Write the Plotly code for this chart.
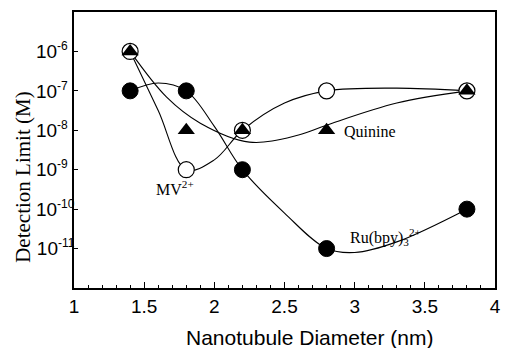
import plotly.graph_objects as go

# Measured points
diam = [1.4, 1.8, 2.2, 2.8, 3.8]
ru_vals = [1e-7, 1e-7, 1e-9, 1e-11, 1e-10]
mv_vals = [1e-6, 1e-9, 1e-8, 1e-7, 1e-7]
qn_vals = [1e-6, 1e-8, 1e-8, 1e-8, 1e-7]

# Hand-drawn smooth curves (x, log10 y)
ru_cx = [1.4, 1.6, 1.8, 2.0, 2.2, 2.5, 2.8, 3.0, 3.3, 3.8]
ru_cl = [-7.0, -6.8, -7.0, -7.9, -9.0, -10.1, -11.0, -11.1, -10.83, -10.0]
mv_cx = [1.4, 1.6, 1.8, 2.0, 2.2, 2.5, 2.8, 3.3, 3.8]
mv_cl = [-6.0, -7.5, -9.0, -8.75, -8.0, -7.31, -7.0, -6.93, -7.0]
qn_cx = [1.4, 1.66, 1.9, 2.25, 2.6, 2.8, 3.3, 3.8]
qn_cl = [-6.0, -7.16, -7.82, -8.3, -8.12, -7.87, -7.31, -7.0]

ytick_vals = [1e-6, 1e-7, 1e-8, 1e-9, 1e-10, 1e-11]
ytick_exp = ["-6", "-7", "-8", "-9", "-10", "-11"]
xtick_vals = [1, 1.5, 2, 2.5, 3, 3.5, 4]
xtick_text = ["1", "1.5", "2", "2.5", "3", "3.5", "4"]

# left-aligned look: pad shorter exponents with non-breaking spaces
ytick_text = ["10<sup><span style='font-size:12px'>%s%s</span></sup>"
              % (e, "\u00a0\u00a0" * (3 - len(e))) for e in ytick_exp]

fig = go.Figure()
line = dict(color="black", width=1.1, shape="spline", smoothing=1.0)
for cx, cl in [(ru_cx, ru_cl), (mv_cx, mv_cl), (qn_cx, qn_cl)]:
    fig.add_trace(go.Scatter(x=cx, y=[10 ** v for v in cl], mode="lines",
                             line=line, hoverinfo="skip"))

fig.add_trace(go.Scatter(x=diam, y=ru_vals, mode="markers",
                         marker=dict(symbol="circle", size=16, color="black",
                                     line=dict(color="black", width=1))))
fig.add_trace(go.Scatter(x=diam, y=mv_vals, mode="markers",
                         marker=dict(symbol="circle", size=16, color="white",
                                     line=dict(color="black", width=1.2))))
fig.add_trace(go.Scatter(x=diam, y=qn_vals, mode="markers",
                         marker=dict(symbol="triangle-up", size=15, color="black",
                                     line=dict(color="black", width=0))))

serif = "Liberation Serif, Times New Roman, serif"
sans = "Liberation Sans, Arial, sans-serif"
fig.add_annotation(x=2.91, y=-8.04, text="Quinine", showarrow=False,
                   xanchor="left", yanchor="middle", font=dict(family=serif, size=16, color="black"))
fig.add_annotation(x=1.72, y=-9.46, text="MV<sup>2+</sup>", showarrow=False,
                   xanchor="center", yanchor="middle", font=dict(family=serif, size=16, color="black"))
fig.add_annotation(x=2.95, y=-10.71, text="Ru(bpy)<sub>3</sub><sup>2+</sup>", showarrow=False,
                   xanchor="left", yanchor="middle", font=dict(family=serif, size=16, color="black"))
# axis titles
fig.add_annotation(xref="paper", yref="paper", x=-0.123, y=0.40, text="Detection Limit (M)",
                   textangle=-90, showarrow=False, xanchor="center", yanchor="middle",
                   font=dict(family=serif, size=21, color="black"))
fig.add_annotation(xref="paper", yref="paper", x=0.56, y=-0.181, text="Nanotubule Diameter (nm)",
                   showarrow=False, xanchor="center", yanchor="middle",
                   font=dict(family=sans, size=21, color="black"))

fig.update_layout(
    width=505, height=348,
    margin=dict(l=74, r=10, t=12, b=60),
    paper_bgcolor="white", plot_bgcolor="white",
    showlegend=False,
    xaxis=dict(range=[1, 4], tickvals=xtick_vals, ticktext=xtick_text, automargin=False,
               ticks="inside", ticklen=6, tickwidth=1, tickcolor="black",
               minor=dict(dtick=0.1, ticks="inside", ticklen=3, tickcolor="black"),
               showline=True, linecolor="black", linewidth=1.5, mirror=True,
               showgrid=False, zeroline=False,
               tickfont=dict(family=sans, size=19, color="black")),
    yaxis=dict(type="log", range=[-12, -5], tickvals=ytick_vals, ticktext=ytick_text,
               automargin=False, ticklabelstandoff=-6,
               ticks="inside", ticklen=4, tickwidth=1, tickcolor="black",
               showline=True, linecolor="black", linewidth=1.5, mirror=True,
               showgrid=False, zeroline=False,
               tickfont=dict(family=sans, size=19, color="black")),
)

fig.write_html("out.html")
